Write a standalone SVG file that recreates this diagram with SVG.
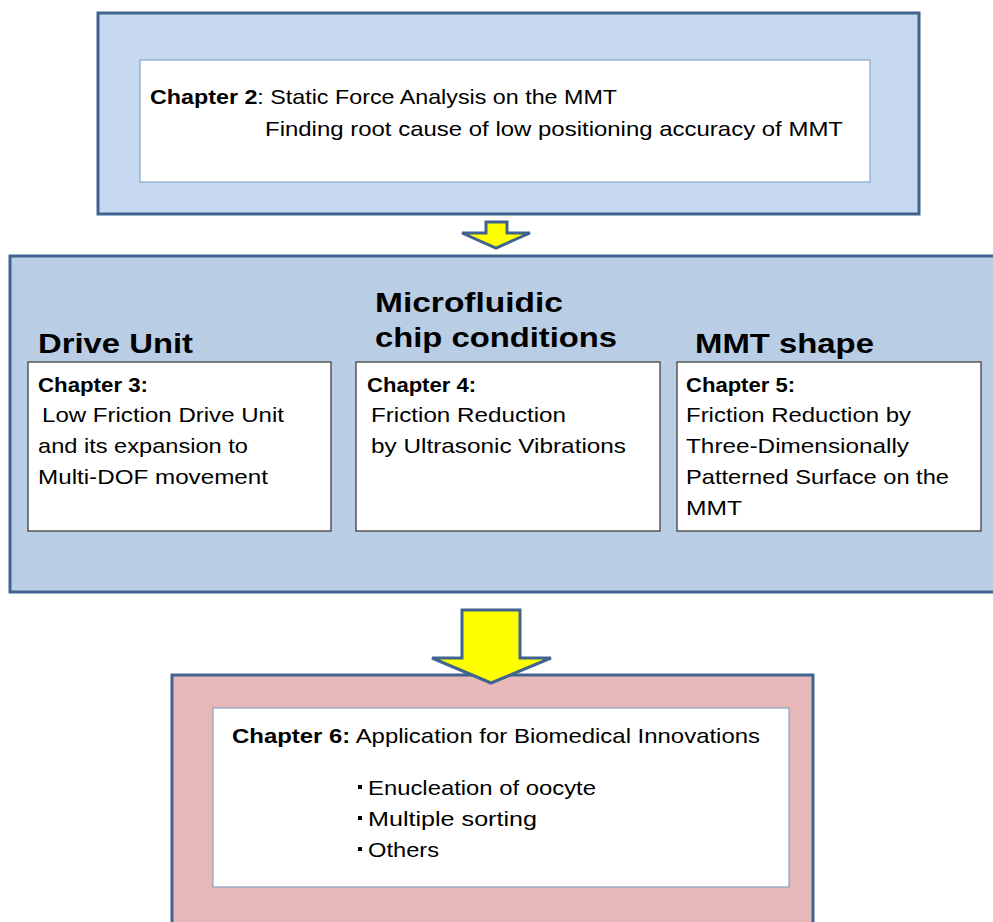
<svg xmlns="http://www.w3.org/2000/svg" width="993" height="922" viewBox="0 0 993 922">
<style>
.outer{stroke:#41638f;stroke-width:3}
.inner{fill:#ffffff;stroke:#8aa4c6;stroke-width:1.2}
.card{fill:#ffffff;stroke:#3f3f3f;stroke-width:1.3}
.t{font-family:"Liberation Sans",Arial,sans-serif;font-size:21px;fill:#000}
.b{font-weight:bold}
.h{font-family:"Liberation Sans",Arial,sans-serif;font-size:28px;font-weight:bold;fill:#000}
.arrow{fill:#ffff00;stroke:#41638f;stroke-width:3;stroke-linejoin:miter}
</style>
<rect width="993" height="922" fill="#ffffff"/>
<g id="chapter2">
<rect class="outer" x="98" y="13" width="821" height="201" fill="#c6d9f1"/>
<rect class="inner" x="140" y="60" width="730" height="122"/>
<text class="t" x="150" y="104" textLength="467" lengthAdjust="spacingAndGlyphs"><tspan class="b">Chapter 2</tspan>: Static Force Analysis on the MMT</text>
<text class="t" x="265" y="136" textLength="578" lengthAdjust="spacingAndGlyphs">Finding root cause of low positioning accuracy of MMT</text>
</g>
<g id="middle">
<rect class="outer" x="10" y="256" width="995" height="336" fill="#b9cde5"/>
<text class="h" x="38" y="353" textLength="155" lengthAdjust="spacingAndGlyphs">Drive Unit</text>
<text class="h" x="375" y="312" textLength="188" lengthAdjust="spacingAndGlyphs">Microfluidic</text>
<text class="h" x="375" y="347" textLength="242" lengthAdjust="spacingAndGlyphs">chip conditions</text>
<text class="h" x="695" y="353" textLength="179" lengthAdjust="spacingAndGlyphs">MMT shape</text>
</g>
<g id="chapter3">
<rect class="card" x="28" y="362" width="303" height="169"/>
<text class="t b" x="38" y="392" textLength="110" lengthAdjust="spacingAndGlyphs">Chapter 3:</text>
<text class="t" x="42" y="422" textLength="242" lengthAdjust="spacingAndGlyphs">Low Friction Drive Unit</text>
<text class="t" x="38" y="453" textLength="210" lengthAdjust="spacingAndGlyphs">and its expansion to</text>
<text class="t" x="38" y="484" textLength="230" lengthAdjust="spacingAndGlyphs">Multi-DOF movement</text>
</g>
<g id="chapter4">
<rect class="card" x="356" y="362" width="304" height="169"/>
<text class="t b" x="367" y="392" textLength="109" lengthAdjust="spacingAndGlyphs">Chapter 4:</text>
<text class="t" x="371" y="422" textLength="195" lengthAdjust="spacingAndGlyphs">Friction Reduction</text>
<text class="t" x="371" y="453" textLength="255" lengthAdjust="spacingAndGlyphs">by Ultrasonic Vibrations</text>
</g>
<g id="chapter5">
<rect class="card" x="677" y="362" width="304" height="169"/>
<text class="t b" x="686" y="392" textLength="109" lengthAdjust="spacingAndGlyphs">Chapter 5:</text>
<text class="t" x="686" y="422" textLength="225" lengthAdjust="spacingAndGlyphs">Friction Reduction by</text>
<text class="t" x="686" y="453" textLength="223" lengthAdjust="spacingAndGlyphs">Three-Dimensionally</text>
<text class="t" x="686" y="484" textLength="263" lengthAdjust="spacingAndGlyphs">Patterned Surface on the</text>
<text class="t" x="686" y="515" textLength="56" lengthAdjust="spacingAndGlyphs">MMT</text>
</g>
<g id="chapter6">
<rect class="outer" x="172" y="675" width="641" height="260" fill="#e6b9b8"/>
<rect class="inner" x="213" y="708" width="576" height="179"/>
<text class="t" x="232" y="743" textLength="528" lengthAdjust="spacingAndGlyphs"><tspan class="b">Chapter 6:</tspan> Application for Biomedical Innovations</text>
<rect x="358" y="785" width="4" height="4" fill="#000"/>
<text class="t" x="368" y="795" textLength="228" lengthAdjust="spacingAndGlyphs">Enucleation of oocyte</text>
<rect x="358" y="816" width="4" height="4" fill="#000"/>
<text class="t" x="368" y="826" textLength="169" lengthAdjust="spacingAndGlyphs">Multiple sorting</text>
<rect x="358" y="847" width="4" height="4" fill="#000"/>
<text class="t" x="368" y="857" textLength="71" lengthAdjust="spacingAndGlyphs">Others</text>
</g>
<g id="connectors">
<path class="arrow" d="M486,222 H507 V233 H530 L496,248 L462,233 H486 Z" stroke-width="2"/>
<path class="arrow" d="M462,610 H520 V658 H551 L491,683 L432,658 H462 Z"/>
</g>
</svg>
